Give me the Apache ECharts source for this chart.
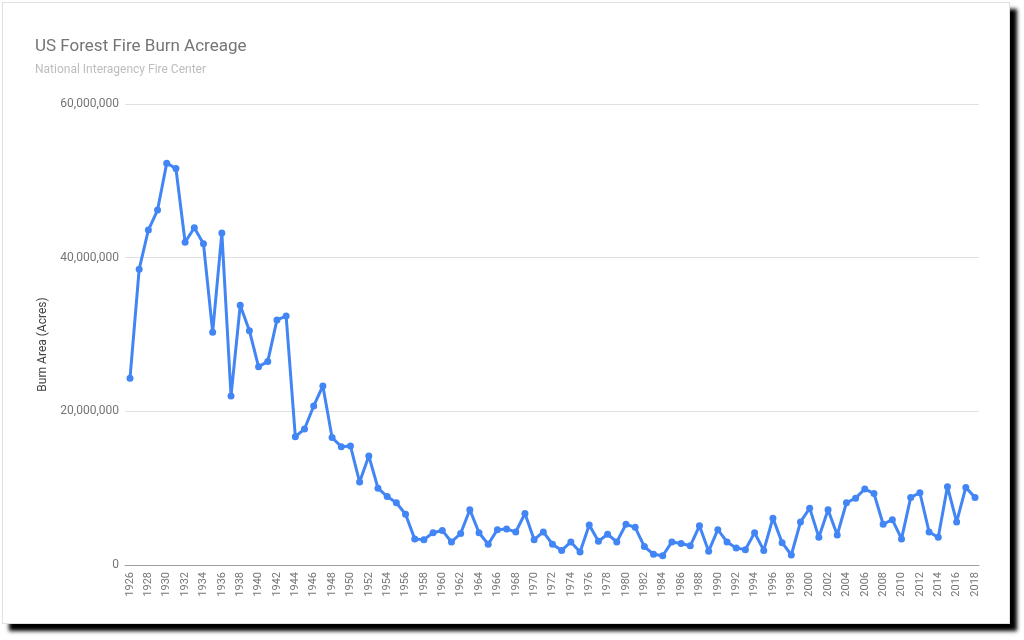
<!DOCTYPE html>
<html>
<head>
<meta charset="utf-8">
<script src="https://cdn.jsdelivr.net/npm/echarts@6/dist/echarts.min.js"></script>
<style>
  html, body { margin: 0; padding: 0; background: #fff; }
  .card {
    position: absolute; left: 2px; top: 2px;
    width: 1006px; height: 620px;
    background: #fff;
    border: 1px solid #e0e0e0;
    box-shadow: 7px 7px 4px #000;
  }
  #chart { position: absolute; left: 0; top: 0; width: 1024px; height: 640px; }
</style>
</head>
<body>
<div class="card"></div>
<div id="chart"></div>
<script>
// years 1926..2018
var years = [];
for (var y = 1926; y <= 2018; y++) years.push(y);

// burn area in acres
var acres = [
  24300000, 38500000, 43600000, 46200000, 52300000, 51600000, 42000000, 43900000, 41800000, 30300000, // 1926-1935
  43200000, 22000000, 33800000, 30500000, 25800000, 26500000, 31900000, 32400000, 16700000, 17700000, // 1936-1945
  20700000, 23300000, 16600000, 15400000, 15500000, 10800000, 14200000, 10000000, 8900000, 8100000,    // 1946-1955
  6600000, 3400000, 3300000, 4200000, 4500000, 3000000, 4100000, 7200000, 4200000, 2700000,            // 1956-1965
  4600000, 4700000, 4300000, 6700000, 3300000, 4300000, 2700000, 1900000, 3000000, 1700000,            // 1966-1975
  5200000, 3100000, 4000000, 3000000, 5300000, 4900000, 2400000, 1400000, 1200000, 3000000,            // 1976-1985
  2800000, 2500000, 5100000, 1800000, 4600000, 3000000, 2200000, 2000000, 4200000, 1900000,            // 1986-1995
  6100000, 2900000, 1300000, 5600000, 7400000, 3600000, 7200000, 3900000, 8100000, 8700000,            // 1996-2005
  9900000, 9300000, 5300000, 5900000, 3400000, 8800000, 9400000, 4300000, 3600000, 10200000,           // 2006-2015
  5600000, 10100000, 8800000                                                                          // 2016-2018
];

// tick labels on the x axis (every other year)
var yearTicks = [];
for (var t = 1926; t <= 2018; t += 2) yearTicks.push(t);

var yTicks = [0, 20000000, 40000000, 60000000];

var chart = echarts.init(document.getElementById('chart'));
var option = {
  backgroundColor: 'transparent',
  textStyle: { fontFamily: 'Roboto' },
  title: {
    text: 'US Forest Fire Burn Acreage',
    subtext: 'National Interagency Fire Center',
    left: 30,
    top: 33,
    itemGap: 9,
    textStyle: { fontSize: 17, fontWeight: 'normal', color: '#757575', fontFamily: 'Roboto' },
    subtextStyle: { fontSize: 12, color: '#bdbdbd', fontFamily: 'Roboto' }
  },
  grid: { left: 125, right: 45, top: 104, bottom: 75, containLabel: false },
  xAxis: {
    type: 'value',
    min: 1925.456,
    max: 2018.435,
    splitLine: { show: false },
    axisTick: { show: false },
    axisLine: { show: true, onZero: false, lineStyle: { color: '#9e9e9e', width: 1 } },
    axisLabel: {
      rotate: 90,
      margin: 7,
      fontSize: 11,
      color: '#757575',
      customValues: yearTicks,
      formatter: function (v) { return String(v); }
    }
  },
  yAxis: {
    type: 'value',
    min: yTicks[0],
    max: yTicks[yTicks.length - 1],
    interval: 20000000,
    name: 'Burn Area (Acres)',
    nameLocation: 'middle',
    nameGap: 76,
    nameTextStyle: { fontSize: 12, color: '#424242', padding: [0, 0, 0, -20] },
    axisLine: { show: false },
    axisTick: { show: false },
    splitLine: { lineStyle: { color: '#e0e0e0', width: 1 } },
    axisLabel: {
      margin: 6,
      fontSize: 12,
      color: '#757575',
      formatter: function (v) { return v.toLocaleString('en-US'); }
    }
  },
  series: [{
    type: 'line',
    data: years.map(function (yr, i) { return [yr, acres[i]]; }),
    symbol: 'circle',
    symbolSize: 7,
    showSymbol: true,
    lineStyle: { color: '#4285f4', width: 3 },
    itemStyle: { color: '#4285f4' },
    animation: false
  }]
};
chart.setOption(option);
</script>
</body>
</html>
